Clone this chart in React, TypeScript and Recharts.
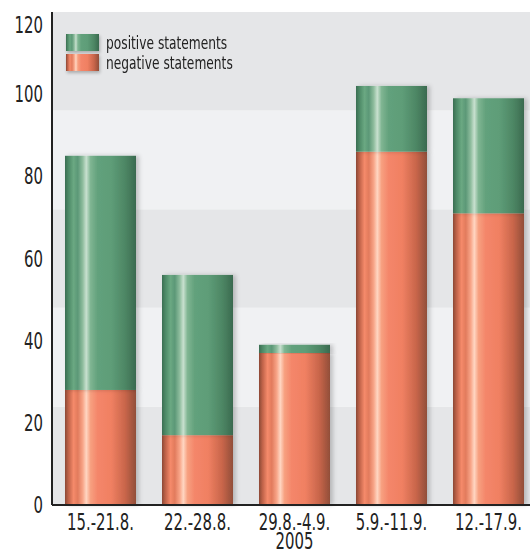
import { BarChart, Bar, XAxis, YAxis, ReferenceArea, Legend } from "recharts";

const weeks = ["15.-21.8.", "22.-28.8.", "29.8.-4.9.", "5.9.-11.9.", "12.-17.9."];
const yearNotes = ["", "", "2005", "", ""];
const negative = [28, 17, 37, 86, 71];
const positive = [57, 39, 2, 16, 28];
const yTicks = [0, 20, 40, 60, 80, 100, 120];
const bandEdges = [0, 24, 48, 72, 96, 120];

const data = weeks.map((week, i) => ({
  week,
  year: yearNotes[i],
  negative: negative[i],
  positive: positive[i],
}));

const FONT = "'DejaVu Sans Condensed', 'DejaVu Sans', sans-serif";
const INK = "#222";
// the labels use a tall, narrow face, so squeeze the glyphs horizontally
const SQUEEZE = 0.72;

// horizontal stops give the bars their rounded, tube-like shading
const greenStops: [number, string][] = [
  [0, "#3b6e51"],
  [0.05, "#4e8a67"],
  [0.12, "#6aa882"],
  [0.18, "#5c9877"],
  [0.25, "#8fbd9e"],
  [0.3, "#c8e0cf"],
  [0.36, "#7fb592"],
  [0.46, "#62a17c"],
  [0.65, "#5e9d78"],
  [0.85, "#4d8664"],
  [1, "#3a6a4f"],
];
const orangeStops: [number, string][] = [
  [0, "#8c4835"],
  [0.05, "#c0634a"],
  [0.12, "#f58a6a"],
  [0.18, "#e27b5d"],
  [0.25, "#f8a588"],
  [0.3, "#ffd6c2"],
  [0.36, "#f7a080"],
  [0.46, "#f4866a"],
  [0.65, "#f08062"],
  [0.85, "#c8654a"],
  [1, "#914e39"],
];

const cssGradient = (stops: [number, string][]) =>
  `linear-gradient(to right, ${stops.map(([o, c]) => `${c} ${o * 100}%`).join(", ")})`;

const TubeBar = (fillId: string) => (props: any) => {
  const { x, y, width, height } = props;
  if (!height || height <= 0) return <g />;
  return (
    <rect
      x={x}
      y={y}
      width={width}
      height={height}
      fill={`url(#${fillId})`}
      filter="url(#barShadow)"
    />
  );
};

const Narrow = ({ x, y, anchor, children }: any) => (
  <g transform={`translate(${x},${y}) scale(${SQUEEZE},1)`}>
    <text x={0} y={0} textAnchor={anchor} fontSize={23} fontFamily={FONT} fill={INK}>
      {children}
    </text>
  </g>
);

const WeekTick = (props: any) => {
  const { x, y, index } = props;
  return (
    <g>
      <Narrow x={x} y={y + 25} anchor="middle">
        {weeks[index]}
      </Narrow>
      {yearNotes[index] ? (
        <Narrow x={x} y={y + 44} anchor="middle">
          {yearNotes[index]}
        </Narrow>
      ) : null}
    </g>
  );
};

const ValueTick = (props: any) => {
  const { x, y, payload } = props;
  // keep the topmost label clear of the upper edge
  const baseline = Math.max(y + 8, 33);
  return (
    <Narrow x={x} y={baseline} anchor="end">
      {payload.value}
    </Narrow>
  );
};

const LegendBox = (props: any) => {
  const items = [...(props.payload || [])].reverse();
  return (
    <div style={{ fontFamily: FONT, fontSize: 17, color: INK }}>
      {items.map((item: any) => (
        <div
          key={item.value}
          style={{ display: "flex", alignItems: "center", height: 19, marginBottom: 1 }}
        >
          <div
            style={{
              width: 33,
              height: 17,
              marginRight: 7,
              flex: "none",
              background: cssGradient(item.dataKey === "positive" ? greenStops : orangeStops),
              boxShadow: "1px 2px 3px rgba(0,0,0,0.25)",
            }}
          />
          <span
            style={{
              display: "inline-block",
              whiteSpace: "nowrap",
              transform: "scale(0.8, 1)",
              transformOrigin: "left center",
            }}
          >
            {item.value}
          </span>
        </div>
      ))}
    </div>
  );
};

export default function App() {
  return (
    <div
      style={{
        position: "absolute",
        left: 0,
        top: 0,
        width: 530,
        height: 552,
        overflow: "hidden",
        background: "#fff",
      }}
    >
      <BarChart
        width={540}
        height={552}
        data={data}
        margin={{ top: 12, right: 3, bottom: 0, left: 0 }}
        barCategoryGap={13}
      >
        <defs>
          <linearGradient id="greenTube" x1="0" y1="0" x2="1" y2="0">
            {greenStops.map(([o, c]) => (
              <stop key={o} offset={o} stopColor={c} />
            ))}
          </linearGradient>
          <linearGradient id="orangeTube" x1="0" y1="0" x2="1" y2="0">
            {orangeStops.map(([o, c]) => (
              <stop key={o} offset={o} stopColor={c} />
            ))}
          </linearGradient>
          <filter id="barShadow" x="-10%" y="-10%" width="130%" height="120%">
            <feDropShadow dx="3" dy="0" stdDeviation="2" floodColor="#000" floodOpacity="0.2" />
          </filter>
        </defs>
        {bandEdges.slice(0, -1).map((lo, i) => (
          <ReferenceArea
            key={lo}
            y1={lo}
            y2={bandEdges[i + 1]}
            fill={i % 2 === 0 ? "#e5e6e8" : "#f0f1f3"}
            fillOpacity={1}
            stroke="none"
            ifOverflow="visible"
          />
        ))}
        <XAxis
          dataKey="week"
          height={47}
          tickLine={false}
          tickSize={0}
          tickMargin={0}
          axisLine={{ stroke: INK, strokeWidth: 2 }}
          tick={<WeekTick />}
          interval={0}
        />
        <YAxis
          width={52}
          domain={[0, 120]}
          ticks={yTicks}
          tickLine={false}
          tickSize={0}
          tickMargin={9}
          axisLine={{ stroke: INK, strokeWidth: 2 }}
          tick={<ValueTick />}
        />
        <Legend
          layout="vertical"
          align="center"
          verticalAlign="middle"
          content={<LegendBox />}
          wrapperStyle={{ position: "absolute", top: 33, left: 66, width: 220 }}
        />
        <Bar
          dataKey="negative"
          name="negative statements"
          stackId="s"
          fill="#f08062"
          shape={TubeBar("orangeTube")}
          isAnimationActive={false}
        />
        <Bar
          dataKey="positive"
          name="positive statements"
          stackId="s"
          fill="#5e9d78"
          shape={TubeBar("greenTube")}
          isAnimationActive={false}
        />
      </BarChart>
    </div>
  );
}
